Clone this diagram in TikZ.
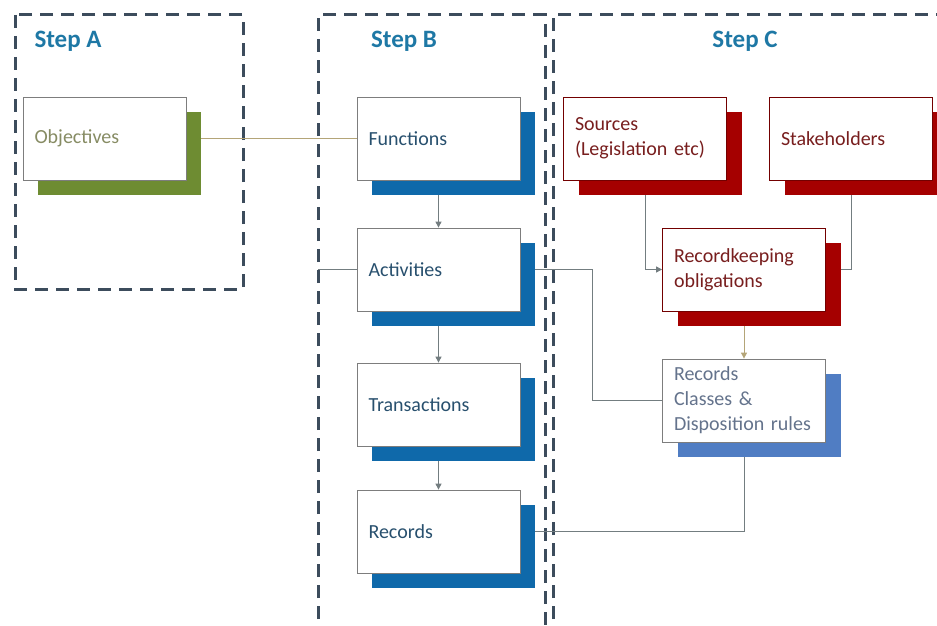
\documentclass[tikz,border=0pt]{standalone}
\usepackage{fontspec}
\setmainfont{Carlito}
\usetikzlibrary{shadows,arrows.meta}

\definecolor{steptitle}{RGB}{30,120,165}
\definecolor{frameline}{RGB}{60,76,92}
\definecolor{boxline}{RGB}{125,125,125}
\definecolor{shgreen}{RGB}{110,140,50}
\definecolor{shblue}{RGB}{15,105,170}
\definecolor{shred}{RGB}{165,0,0}
\definecolor{shlight}{RGB}{80,125,195}
\definecolor{txgreen}{RGB}{135,140,100}
\definecolor{txblue}{RGB}{40,80,110}
\definecolor{txred}{RGB}{120,30,30}
\definecolor{txlight}{RGB}{100,115,140}
\definecolor{linkgray}{RGB}{115,125,128}
\definecolor{linktan}{RGB}{180,165,120}

\begin{document}
\begin{tikzpicture}[x=1pt,y=-1pt]
		\tikzstyle{stepframe}=[draw=frameline,line width=3pt,dash pattern=on 13pt off 8pt]
		\tikzstyle{steptext}=[text=steptitle,font=\fontsize{25}{29}\bfseries\selectfont]
		\tikzstyle{box}=[draw=boxline,fill=white,line width=0.8pt,minimum height=83pt,
			text width=140pt,inner xsep=11.5pt,align=left,font=\fontsize{20}{25}\selectfont]
		\tikzstyle{green box}=[box,text=txgreen,drop shadow={fill=shgreen,opacity=1,shadow xshift=15pt,shadow yshift=-15pt}]
		\tikzstyle{blue box}=[box,text=txblue,drop shadow={fill=shblue,opacity=1,shadow xshift=15pt,shadow yshift=-15pt}]
		\tikzstyle{red box}=[box,draw=shred!70!black,text=txred,drop shadow={fill=shred,opacity=1,shadow xshift=15pt,shadow yshift=-15pt}]
		\tikzstyle{light box}=[box,text=txlight,drop shadow={fill=shlight,opacity=1,shadow xshift=15pt,shadow yshift=-15pt}]
		\tikzstyle{link}=[draw=linkgray,line width=1pt]
		\tikzstyle{arrowlink}=[link,-{Triangle[length=6pt,width=6pt]}]

		\useasboundingbox (0,0) rectangle (937,626);

		\draw[stepframe] (15,15) rectangle (243,289);
		\draw[stepframe] (318,640) -- (318,15) -- (545,15) -- (545,640);
		\draw[stepframe] (553,640) -- (553,15) -- (950,15);

		\node[steptext,anchor=west] (titleA) at (31,41) {Step A};
		\node[steptext] (titleB) at (404,41) {Step B};
		\node[steptext] (titleC) at (745,41) {Step C};

		\node[green box] (obj) at (104.5,138.5) {Objectives};

		\node[blue box] (fun) at (438.5,138.5) {Functions};
		\node[blue box] (act) at (438.5,269.5) {Activities};
		\node[blue box] (trn) at (438.5,404.5) {Transactions};
		\node[blue box] (rec) at (438.5,531.5) {Records};

		\node[red box] (src) at (645,138.5) {Sources\\(Legislation etc)};
		\node[red box] (stk) at (851,138.5) {Stakeholders};
		\node[red box] (rko) at (744,269.5) {Recordkeeping\\obligations};
		\node[light box] (rcl) at (744,400.5) {Records\\Classes \&\\Disposition rules};

		\coordinate (actin) at (318,269.5);

		\draw[link,draw=linktan] ([xshift=15pt]obj.east) -- (fun.west);
		\draw[arrowlink] ([yshift=-15pt]fun.south) -- (act.north);
		\draw[arrowlink] ([yshift=-15pt]act.south) -- (trn.north);
		\draw[arrowlink] ([yshift=-15pt]trn.south) -- (rec.north);
		\draw[link] (actin) -- (act.west);
		\draw[link] ([xshift=15pt]act.east) -- ++(57,0) |- (rcl.west);
		\draw[arrowlink] ([yshift=-15pt]src.south) |- (rko.west);
		\draw[link] ([yshift=-15pt]stk.south) |- ([xshift=15pt]rko.east);
		\draw[arrowlink,draw=linktan] ([yshift=-15pt]rko.south) -- (rcl.north);
		\draw[link] ([yshift=-15pt]rcl.south) |- ([xshift=15pt]rec.east);
	\end{tikzpicture}
\end{document}
